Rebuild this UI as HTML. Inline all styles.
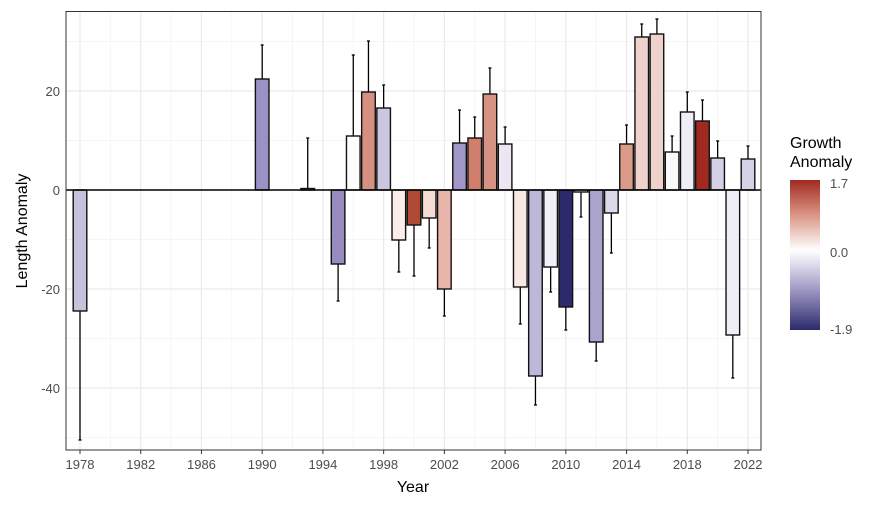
<!DOCTYPE html>
<html><head><meta charset="utf-8"><style>body{margin:0;background:#fff}svg{display:block;font-family:"Liberation Sans",sans-serif}</style></head><body>
<svg width="884" height="507" xmlns="http://www.w3.org/2000/svg">
<rect width="884" height="507" fill="#fff"/>
<g id="grid"></g>
<g id="bars"></g>
<rect x="66" y="11.5" width="695" height="438.5" fill="none" stroke="#333" stroke-width="1"/>
<g font-size="13" fill="#4d4d4d" text-anchor="end">
<text x="60" y="96">20</text><text x="60" y="195">0</text><text x="60" y="294">-20</text><text x="60" y="393">-40</text>
</g>
<g id="xl" font-size="13" fill="#4d4d4d" text-anchor="middle"></g>
<text x="413" y="492" font-size="16" text-anchor="middle">Year</text>
<text transform="translate(27,231) rotate(-90)" font-size="16" text-anchor="middle">Length Anomaly</text>
<text x="790" y="148" font-size="16">Growth</text>
<text x="790" y="167" font-size="16">Anomaly</text>
<defs><linearGradient id="g" x1="0" y1="0" x2="0" y2="1">
<stop offset="0" stop-color="#a02a21"/><stop offset="0.22" stop-color="#d8907f"/><stop offset="0.47" stop-color="#ffffff"/><stop offset="0.72" stop-color="#a49dc8"/><stop offset="1" stop-color="#2c2a6d"/></linearGradient></defs>
<rect x="790" y="180" width="30" height="150" fill="url(#g)"/>
<g font-size="13" fill="#4d4d4d"><text x="830" y="188">1.7</text><text x="830" y="257">0.0</text><text x="830" y="334">-1.9</text></g>
<script>
var ns="http://www.w3.org/2000/svg";
function el(p,t,a){var e=document.createElementNS(ns,t);for(var k in a)e.setAttribute(k,a[k]);p.appendChild(e);return e;}
function Y(v){return 190-4.95*v;}function X(y){return 80+15.182*(y-1978);}
var g=document.getElementById('grid');
for(var v=-50;v<=30;v+=20)el(g,'line',{x1:66,x2:761,y1:Y(v),y2:Y(v),stroke:'#f2f2f2','stroke-width':0.7});
for(var yr=1980;yr<=2020;yr+=4)el(g,'line',{x1:X(yr),x2:X(yr),y1:11.5,y2:450,stroke:'#f2f2f2','stroke-width':0.7});
for(var v=-40;v<=20;v+=20)el(g,'line',{x1:66,x2:761,y1:Y(v),y2:Y(v),stroke:'#ebebeb','stroke-width':1.3});
var xl=document.getElementById('xl');
for(var yr=1978;yr<=2022;yr+=4){el(g,'line',{x1:X(yr),x2:X(yr),y1:11.5,y2:450,stroke:'#ebebeb','stroke-width':1.3});
el(xl,'line',{x1:X(yr),x2:X(yr),y1:450,y2:454,stroke:'#333'});var t=el(xl,'text',{x:X(yr),y:469});t.textContent=yr;}
var d=[[1978,311,440,'#c5c2de'],[1990,79,45,'#9b91c2'],[1993,188.5,138,'#fdfdfd'],[1995,264,301,'#978bbf'],[1996,136,55,'#fdfdfd'],[1997,92,41,'#d69080'],[1998,108,85,'#cbc7e1'],[1999,240,272,'#faeeea'],[2000,225,276,'#b04a35'],[2001,218,248,'#f5ddd6'],[2002,289,316,'#e8b6ab'],[2003,143,110,'#a097c6'],[2004,138,117,'#d17f6c'],[2005,94,68,'#d69282'],[2006,144,127,'#ebe6f1'],[2007,287,324,'#f8e9e4'],[2008,376,405,'#bdb7d9'],[2009,267,292,'#f1eff7'],[2010,307,330,'#2c2a6d'],[2011,192,217,'#f6f4f8'],[2012,342,361,'#aaa3cc'],[2013,213,253,'#dcd9ea'],[2014,144,125,'#dc9a89'],[2015,37,24,'#efd2cb'],[2016,34,19,'#efd2cb'],[2017,152,136,'#f9f9fb'],[2018,112,92,'#efedf5'],[2019,121,100,'#a02a21'],[2020,158,141,'#d5d0e6'],[2021,335,378,'#efedf5'],[2022,159,146,'#d6d2e6']];
var b=document.getElementById('bars');
d.forEach(function(r){var x=X(r[0]);
el(b,'line',{x1:x,x2:x,y1:r[1],y2:r[2],stroke:'#000','stroke-width':1.3});
el(b,'line',{x1:x-1.5,x2:x+1.5,y1:r[2],y2:r[2],stroke:'#000','stroke-width':1.3});
var top=Math.min(r[1],190),h=Math.abs(r[1]-190);
el(b,'rect',{x:x-6.8,y:top,width:13.6,height:h,fill:r[3],stroke:'#111','stroke-width':1.4});});
el(b,'line',{x1:66,x2:761,y1:190,y2:190,stroke:'#000','stroke-width':1.4});
</script>
</svg>
</body></html>
